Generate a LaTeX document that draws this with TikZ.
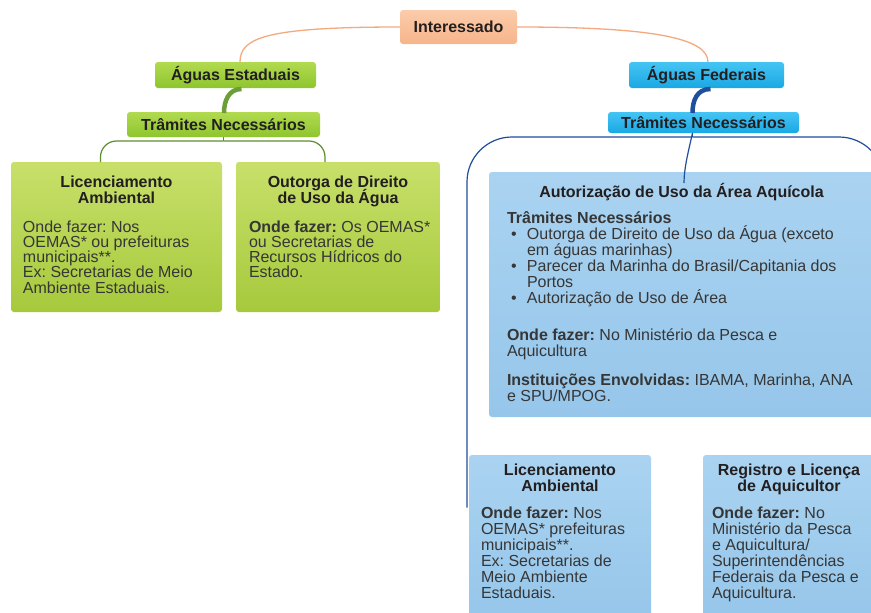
\documentclass[tikz,border=0pt]{standalone}
\usepackage{fontspec}
\setmainfont{Liberation Sans}
\definecolor{gHdrTop}{HTML}{B2DA50}
\definecolor{gHdrBot}{HTML}{8EC52E}
\definecolor{gBoxTop}{HTML}{C8E06A}
\definecolor{gBoxBot}{HTML}{A6C93C}
\definecolor{bHdrTop}{HTML}{45C4F4}
\definecolor{bHdrBot}{HTML}{1AA8E3}
\definecolor{bBoxTop}{HTML}{AAD3F1}
\definecolor{bBoxBot}{HTML}{96C6EA}
\definecolor{oTop}{HTML}{FBCCAB}
\definecolor{oBot}{HTML}{F7B48A}
\definecolor{oLine}{HTML}{F4A97E}
\definecolor{gLine}{HTML}{5E8E2E}
\definecolor{gThick}{HTML}{6B9E38}
\definecolor{bLine}{HTML}{1F4E9C}
\definecolor{ttlc}{HTML}{231F20}
\definecolor{bodyc}{HTML}{363636}
\newcommand\fntG{\fontsize{16}{15.3}\selectfont\frenchspacing\lineskiplimit=-100pt\relax}
\newcommand\fntB{\fontsize{16}{16.1}\selectfont\frenchspacing\lineskiplimit=-100pt\relax}
\newcommand\fntT{\fontsize{16}{16}\selectfont\bfseries\frenchspacing\lineskiplimit=-100pt\relax}
\newcommand\fst{\rule{0pt}{15pt}}
\newcommand\bul{\hspace*{4pt}\makebox[16pt][l]{\textbullet}}
\newcommand\bcont{\hspace*{20pt}}
\tikzset{
  nosep/.style={inner sep=0pt, outer sep=0pt},
  shbox/.style={nosep, anchor=north west, rounded corners=3pt},
  greenbox/.style={shbox, top color=gBoxTop, bottom color=gBoxBot},
  bluebox/.style={shbox, top color=bBoxTop, bottom color=bBoxBot},
  ghdr/.style={shbox, top color=gHdrTop, bottom color=gHdrBot, text=ttlc, font=\fntT},
  bhdr/.style={shbox, top color=bHdrTop, bottom color=bHdrBot, text=ttlc, font=\fntT},
  ohdr/.style={shbox, top color=oTop, bottom color=oBot, text=ttlc, font=\fntT},
  ttl/.style={nosep, anchor=north, align=center, text=ttlc, font=\fntT},
  bodyg/.style={nosep, anchor=north west, align=left, text=bodyc, font=\fntG},
  bodyb/.style={nosep, anchor=north west, align=left, text=bodyc, font=\fntB},
  oline/.style={draw=oLine, line width=1.3pt},
  gline/.style={draw=gLine, line width=1.2pt},
  bline/.style={draw=bLine, line width=1.2pt},
  gthick/.style={draw=gThick, line width=4.5pt},
  bthick/.style={draw=bLine, line width=4.5pt}
}
\frenchspacing
\begin{document}
\begin{tikzpicture}[x=1pt,y=-1pt]
\useasboundingbox (0,0) rectangle (871,613);
\clip (0,0) rectangle (871,613);
\fill[white] (0,0) rectangle (871,613);
% header nodes
\node[ohdr, minimum width=117pt, minimum height=34pt] (int) at (400,10) {Interessado};
\node[ghdr, minimum width=161pt, minimum height=26pt] (ae) at (155,62) {Águas Estaduais};
\node[ghdr, minimum width=193pt, minimum height=25pt] (tn1) at (127,112) {Trâmites Necessários};
\node[bhdr, minimum width=155pt, minimum height=26pt] (af) at (629,62) {Águas Federais};
\node[bhdr, minimum width=191pt, minimum height=21pt] (tn2) at (608,112) {Trâmites Necessários};
% content boxes
\node[greenbox, minimum width=211pt, minimum height=150pt] (gl1) at (11,162) {};
\node[greenbox, minimum width=204pt, minimum height=150pt] (gl2) at (236,162) {};
\node[bluebox, minimum width=390pt, minimum height=245pt] (aut) at (489,172) {};
\node[bluebox, minimum width=182pt, minimum height=165pt] (bl1) at (469,455) {};
\node[bluebox, minimum width=180pt, minimum height=165pt] (bl2) at (703,455) {};
% connectors
\draw[oline] (int.west) .. controls +(-135,0) and +(0,-24) .. ([xshift=4.5pt]ae.north);
\draw[oline] (int.east) .. controls +(135,0) and +(0,-24) .. ([xshift=1.5pt]af.north);
\draw[gthick] ([xshift=6pt,yshift=-1pt]ae.south) .. controls +(-13,0) and +(0,-12) .. ([xshift=0.5pt,yshift=-1pt]tn1.north);
\draw[bthick] ([xshift=4pt,yshift=-1pt]af.south) .. controls +(-14,0) and +(0,-12) .. ([xshift=-11pt,yshift=-1pt]tn2.north);
\coordinate (j1) at ([yshift=-4pt]tn1.south);
\draw[gline] (tn1.south) -- (j1);
\draw[gline, rounded corners=16pt] (j1) -| ([xshift=-16pt]gl1.north);
\draw[gline, rounded corners=16pt] (j1) -| ([xshift=-13pt]gl2.north);
\coordinate (j2) at ([xshift=-11pt,yshift=-4pt]tn2.south);
\coordinate (redge) at (884,300);
\draw[bline] ([xshift=-11pt]tn2.south) -- (j2);
\draw[bline, rounded corners=45pt] (j2) -| ([xshift=-2pt,yshift=30pt]bl1.west);
\draw[bline, rounded corners=45pt] (j2) -| (redge);
\draw[bline] ([xshift=-11pt]tn2.south) .. controls +(-4,18) and +(0,-15) .. ([yshift=-11pt]aut.north);
% texts
\node[ttl] (gl1t) at (116.5,172) {\fst Licenciamento\\Ambiental};
\node[bodyg] (gl1b) at (23,217) {\fst Onde fazer: Nos\\OEMAS* ou prefeituras\\municipais**.\\Ex: Secretarias de Meio\\Ambiente Estaduais.};
\node[ttl] (gl2t) at (338,172) {\fst Outorga de Direito\\de Uso da Água};
\node[bodyg] (gl2b) at (249,217) {\fst\textbf{Onde fazer:} Os OEMAS*\\ou Secretarias de\\Recursos Hídricos do\\Estado.};
\node[ttl] (autt) at (681.5,182) {\fst Autorização de Uso da Área Aquícola};
\node[bodyb] (autb) at (507,208) {\fst\textbf{Trâmites Necessários}\\\bul Outorga de Direito de Uso da Água (exceto\\\bcont em águas marinhas)\\\bul Parecer da Marinha do Brasil/Capitania dos\\\bcont Portos\\\bul Autorização de Uso de Área};
\node[bodyb] (auto) at (507,325) {\fst\textbf{Onde fazer:} No Ministério da Pesca e\\Aquicultura};
\node[bodyb] (auti) at (507,370) {\fst\textbf{Instituições Envolvidas:} IBAMA, Marinha, ANA\\e SPU/MPOG.};
\node[ttl] (bl1t) at (560,460) {\fst Licenciamento\\Ambiental};
\node[bodyb] (bl1b) at (481,503) {\fst\textbf{Onde fazer:} Nos\\OEMAS* prefeituras\\municipais**.\\Ex: Secretarias de\\Meio Ambiente\\Estaduais.};
\node[ttl] (bl2t) at (789,460) {\fst Registro e Licença\\de Aquicultor};
\node[bodyb] (bl2b) at (712,503) {\fst\textbf{Onde fazer:} No\\Ministério da Pesca\\e Aquicultura/\\Superintendências\\Federais da Pesca e\\Aquicultura.};
\end{tikzpicture}
\end{document}
